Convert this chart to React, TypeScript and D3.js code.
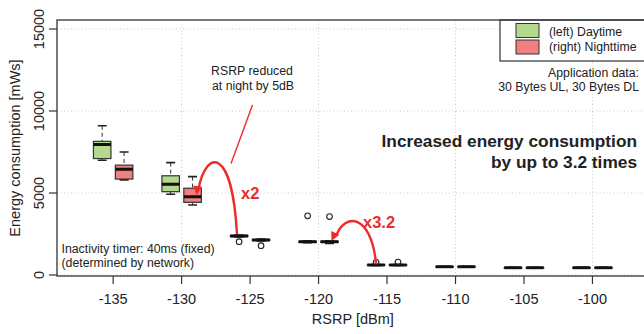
import React from "react";
import * as d3 from "d3";

// ---- data ----
const rsrp = [-135, -130, -125, -120, -115, -110, -105, -100];
const xTicks = [-135, -130, -125, -120, -115, -110, -105, -100];
const xGrid = [-130, -120, -110, -100];
const yTicks = [0, 5000, 10000, 15000];

// [lowWhisker, q1, median, q3, highWhisker]
const dayStats = [
  [7000, 7100, 7950, 8150, 9100],
  [4920, 5080, 5530, 6050, 6850],
  [2320, 2340, 2380, 2420, 2440],
  [1970, 1990, 2030, 2060, 2080],
  [580, 595, 610, 625, 640],
  [480, 492, 505, 515, 525],
  [430, 438, 445, 452, 460],
  [430, 438, 445, 452, 460],
];
const dayOutliers = [[], [], [2030], [3610], [770], [], [], []];

const nightStats = [
  [5800, 5850, 6450, 6700, 7500],
  [4270, 4430, 4770, 5290, 6000],
  [2080, 2100, 2140, 2170, 2190],
  [1930, 1990, 2030, 2060, 2080],
  [580, 595, 610, 625, 640],
  [480, 492, 505, 515, 525],
  [430, 438, 445, 452, 460],
  [430, 438, 445, 452, 460],
];
const nightOutliers = [[], [], [1790], [3560], [790], [], [], []];

const seriesNames = ["(left) Daytime", "(right) Nighttime"];
const seriesColors = ["#b3d98e", "#f17f7f"];
const groupOffset = [-0.8, 0.8];

const FONT = "'Liberation Sans', Arial, Helvetica, sans-serif";
const RED = "#ee2b2b";

function arrowHead(tipX: number, tipY: number, fromX: number, fromY: number, len = 9, half = 4.5) {
  const dx = tipX - fromX;
  const dy = tipY - fromY;
  const L = Math.hypot(dx, dy) || 1;
  const ux = dx / L, uy = dy / L;
  const bx = tipX - ux * len, by = tipY - uy * len;
  const px = -uy, py = ux;
  return `M${tipX},${tipY}L${bx + px * half},${by + py * half}L${bx - px * half},${by - py * half}Z`;
}

export default function App() {
  const W = 644, H = 334;
  const left = 57, right = 648.6, top = 20, bottom = 276;
  const x = d3.scaleLinear().domain([-139.1, -95.9]).range([left, right]);
  const y = d3.scaleLinear().domain([0, 15000]).range([275, 29]);
  const boxW = 17.5;
  const capW = 9;

  const series = [
    { stats: dayStats, outliers: dayOutliers },
    { stats: nightStats, outliers: nightOutliers },
  ];

  // annotation arrows (pixel layout)
  const a1 = { p0: [237, 234], c1: [232, 145], c2: [206, 150], p3: [198.5, 189] };
  const a1tip: [number, number] = [196.5, 195];
  const a2 = { p0: [376, 263], c1: [371, 214], c2: [345, 212], p3: [336, 236] };
  const a2tip: [number, number] = [331.5, 241];

  const curve = (a: any) =>
    `M${a.p0[0]},${a.p0[1]}C${a.c1[0]},${a.c1[1]} ${a.c2[0]},${a.c2[1]} ${a.p3[0]},${a.p3[1]}`;

  return (
    <svg
      width={W}
      height={H}
      style={{ position: "absolute", left: 0, top: 0, background: "#fff" }}
      fontFamily={FONT}
    >
      <defs>
        <clipPath id="plotclip">
          <rect x={left} y={top} width={right - left} height={bottom - top} />
        </clipPath>
      </defs>
      <rect x={0} y={0} width={W} height={H} fill="#fff" />
      {/* grid */}
      <g stroke="#c8c8c8" strokeWidth={1} strokeDasharray="1,2.5">
        {xGrid.map((v) => (
          <line key={"gx" + v} x1={x(v)} x2={x(v)} y1={top} y2={bottom} />
        ))}
        {yTicks.map((v) => (
          <line key={"gy" + v} x1={left} x2={right} y1={y(v)} y2={y(v)} />
        ))}
      </g>

      {/* legend box */}
      <rect x={500} y={top} width={160} height={41} fill="#fff" stroke="#333" strokeWidth={1.2} />
      {seriesNames.map((n, i) => (
        <g key={n}>
          <rect x={516} y={23.5 + i * 16.5} width={23} height={14} fill={seriesColors[i]} stroke="#333" strokeWidth={1} />
          <text x={549} y={35.5 + i * 15.5} fontSize={12.3} fill="#222">{n}</text>
        </g>
      ))}
      <text x={639} y={76.5} fontSize={12.3} fill="#222" textAnchor="end">Application data:</text>
      <text x={639} y={90.5} fontSize={12.3} fill="#222" textAnchor="end">30 Bytes UL, 30 Bytes DL</text>

      {/* boxes */}
      <g clipPath="url(#plotclip)">
        {series.map((s, si) =>
          rsrp.map((r, i) => {
            const [lo, q1, med, q3, hi] = s.stats[i];
            const cx = x(r + groupOffset[si]);
            return (
              <g key={si + "-" + r}>
                <line x1={cx} x2={cx} y1={y(hi)} y2={y(q3)} stroke="#333" strokeWidth={1} strokeDasharray="4,3" />
                <line x1={cx} x2={cx} y1={y(q1)} y2={y(lo)} stroke="#333" strokeWidth={1} strokeDasharray="4,3" />
                <line x1={cx - capW / 2} x2={cx + capW / 2} y1={y(hi)} y2={y(hi)} stroke="#222" strokeWidth={1.6} />
                <line x1={cx - capW / 2} x2={cx + capW / 2} y1={y(lo)} y2={y(lo)} stroke="#222" strokeWidth={1.6} />
                <rect
                  x={cx - boxW / 2}
                  y={y(q3)}
                  width={boxW}
                  height={Math.max(0.5, y(q1) - y(q3))}
                  fill={seriesColors[si]}
                  stroke="#333"
                  strokeWidth={1.2}
                />
                <line x1={cx - boxW / 2} x2={cx + boxW / 2} y1={y(med)} y2={y(med)} stroke="#111" strokeWidth={3} />
                {s.outliers[i].map((o, k) => (
                  <circle key={k} cx={cx} cy={y(o)} r={2.8} fill="none" stroke="#222" strokeWidth={1.1} />
                ))}
              </g>
            );
          })
        )}
      </g>

      {/* frame */}
      <rect x={left} y={top} width={right - left} height={bottom - top} fill="none" stroke="#333" strokeWidth={1.3} />

      {/* x axis */}
      {xTicks.map((v) => (
        <g key={"xt" + v}>
          <line x1={x(v)} x2={x(v)} y1={bottom} y2={bottom + 8} stroke="#333" strokeWidth={1.2} />
          <text x={x(v)} y={303.5} fontSize={14.5} fill="#222" textAnchor="middle">{v}</text>
        </g>
      ))}
      <text x={(left + right) / 2} y={324} fontSize={14.5} fill="#222" textAnchor="middle">RSRP [dBm]</text>

      {/* y axis */}
      {yTicks.map((v) => (
        <g key={"yt" + v}>
          <line x1={left} x2={left - 8} y1={y(v)} y2={y(v)} stroke="#333" strokeWidth={1.2} />
          <text
            transform={`translate(44,${y(v)}) rotate(-90)`}
            fontSize={14.5}
            fill="#222"
            textAnchor="middle"
          >
            {v}
          </text>
        </g>
      ))}
      <text transform={`translate(19.5,${(top + bottom) / 2}) rotate(-90)`} fontSize={14.5} fill="#222" textAnchor="middle">
        Energy consumption [mWs]
      </text>

      {/* annotations */}
      <text x={61.5} y={252.5} fontSize={12.3} fill="#222">Inactivity timer: 40ms (fixed)</text>
      <text x={61.5} y={266.5} fontSize={12.3} fill="#222">(determined by network)</text>

      <text x={252} y={75} fontSize={12.3} fill="#222" textAnchor="middle">RSRP reduced</text>
      <text x={253} y={89.5} fontSize={12.3} fill="#222" textAnchor="middle">at night by 5dB</text>
      <line x1={252.5} y1={105} x2={231} y2={163.5} stroke={RED} strokeWidth={1.4} />

      <text x={637} y={147} fontSize={17.3} fontWeight="bold" fill="#222" textAnchor="end">Increased energy consumption</text>
      <text x={637} y={168} fontSize={17.3} fontWeight="bold" fill="#222" textAnchor="end">by up to 3.2 times</text>

      <path d={curve(a1)} fill="none" stroke={RED} strokeWidth={2.4} />
      <path d={arrowHead(a1tip[0], a1tip[1], a1.c2[0] - 2, a1.c2[1] - 8)} fill={RED} />
      <text x={241} y={198.5} fontSize={16.5} fontWeight="bold" fill={RED}>x2</text>

      <path d={curve(a2)} fill="none" stroke={RED} strokeWidth={2.4} />
      <path d={arrowHead(a2tip[0], a2tip[1], a2.c2[0], a2.c2[1])} fill={RED} />
      <text x={363} y={227.5} fontSize={16.5} fontWeight="bold" fill={RED}>x3.2</text>
    </svg>
  );
}
